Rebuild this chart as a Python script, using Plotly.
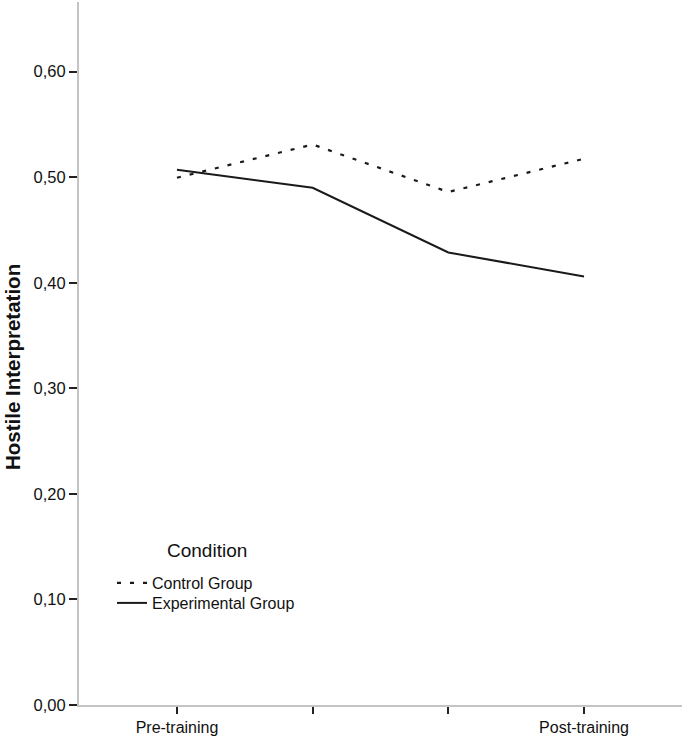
import plotly.graph_objects as go

categories = ["Pre-training", "T2", "T3", "Post-training"]
tick_labels = ["Pre-training", "", "", "Post-training"]
control = [0.4995, 0.531, 0.486, 0.5175]
experimental = [0.507, 0.490, 0.4287, 0.406]
y_ticks = [0.0, 0.1, 0.2, 0.3, 0.4, 0.5, 0.6]
y_tick_text = ["0,00", "0,10", "0,20", "0,30", "0,40", "0,50", "0,60"]

FONT = "Liberation Sans, Arial, sans-serif"
W, H = 685, 738
L, R, T, B = 79, 3, 2, 33
PW, PH = W - L - R, H - T - B

def px_x(x):
    return (x - L) / PW

def px_y(y):
    return (H - B - y) / PH

fig = go.Figure()
fig.add_trace(go.Scatter(x=categories, y=control, mode="lines", name="Control Group",
                         legend="legend",
                         line=dict(color="#1a1a1a", width=2.2, dash="4px,9px")))
fig.add_trace(go.Scatter(x=categories, y=experimental, mode="lines", name="Experimental Group",
                         legend="legend2",
                         line=dict(color="#1a1a1a", width=2)))

legend_common = dict(xanchor="left", yanchor="top", bgcolor="rgba(0,0,0,0)",
                     font=dict(size=16), itemwidth=30)
fig.update_layout(
    width=W, height=H,
    margin=dict(l=L, r=R, t=T, b=B, autoexpand=False),
    paper_bgcolor="white", plot_bgcolor="white",
    font=dict(family=FONT, color="#111111", size=16),
    legend=dict(x=px_x(112), y=px_y(566), **legend_common),
    legend2=dict(x=px_x(112), y=px_y(586), **legend_common),
    showlegend=True,
    annotations=[
        dict(text="<b>Hostile Interpretation</b>", textangle=-90,
             xref="paper", yref="paper", x=px_x(12), y=px_y(367),
             xanchor="center", yanchor="middle", showarrow=False,
             font=dict(size=20.5, color="#111111")),
        dict(text="Condition",
             xref="paper", yref="paper", x=px_x(207), y=px_y(550),
             xanchor="center", yanchor="middle", showarrow=False,
             font=dict(size=19, color="#111111")),
    ],
)
fig.update_xaxes(
    type="category", categoryorder="array", categoryarray=categories,
    tickvals=categories, ticktext=tick_labels,
    range=[-0.722, 3.722], automargin=False,
    showline=True, linecolor="#c4c4c4", linewidth=2,
    ticks="outside", ticklen=7, tickwidth=2, tickcolor="#222222",
    showgrid=False, zeroline=False,
    tickfont=dict(size=16),
)
fig.update_yaxes(
    range=[0, 0.666], automargin=False,
    tickvals=y_ticks, ticktext=y_tick_text,
    showline=True, linecolor="#c4c4c4", linewidth=2,
    ticks="outside", ticklen=8, tickwidth=2, tickcolor="#222222",
    showgrid=False, zeroline=False,
    tickfont=dict(size=16.5),
)
fig.write_html("out.html", config={"displayModeBar": False},
               post_script="document.body.style.margin='0';")
